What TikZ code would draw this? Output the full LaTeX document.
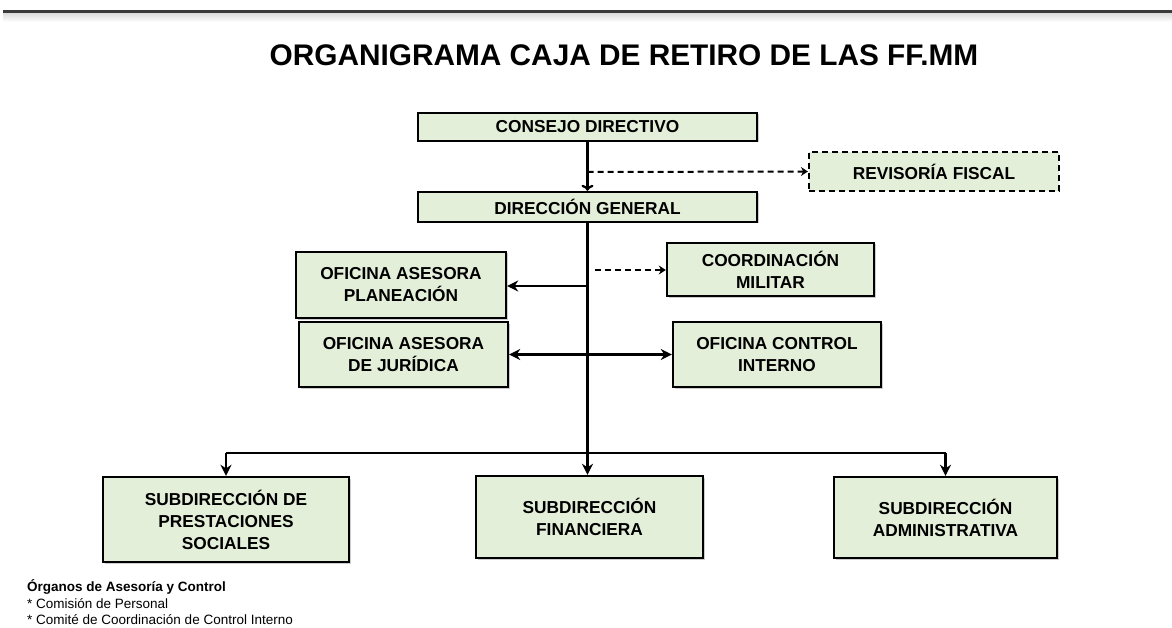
\documentclass[tikz,border=0pt]{standalone}
\usepackage{fontspec}
\setmainfont{Liberation Sans}
\usetikzlibrary{arrows.meta,shadows,calc}
\definecolor{boxfill}{HTML}{E4EFDA}
\definecolor{barcol}{HTML}{3A3A3A}
\tikzset{
  orgbox/.style={draw=black, line width=2.4pt, fill=boxfill, align=center,
    font=\fontsize{17.3}{22}\selectfont\bfseries, inner sep=2pt,
    drop shadow={shadow xshift=1.5pt, shadow yshift=-1.5pt, fill=gray!50, opacity=0.8}},
  dashbox/.style={draw=black, line width=2.2pt, dash pattern=on 6pt off 4pt, fill=boxfill, align=center,
    font=\fontsize{17.3}{22}\selectfont\bfseries, inner sep=2pt},
  conn/.style={line width=2.4pt, draw=black},
  tip/.style={conn, -{Stealth[length=11pt,width=11pt]}},
  vtip/.style={conn, -{To[length=6pt,width=12pt,line width=2.2pt]}},
  dconn/.style={line width=2pt, draw=black, dash pattern=on 6pt off 4pt, -{Stealth[length=7pt,width=9pt]}},
}
\begin{document}
\begin{tikzpicture}[x=1pt,y=-1pt]
\useasboundingbox (0,0) rectangle (1172,628);
\fill[barcol] (3,10) rectangle (1172,14);
\shade[top color=gray!25, bottom color=white] (3,14) rectangle (1172,22);

\node[font=\fontsize{29.8}{34}\selectfont\bfseries] (title) at (624,55) {ORGANIGRAMA CAJA DE RETIRO DE LAS FF.MM};

\node[orgbox, minimum width=339pt, minimum height=28pt] (cd) at (587.5,127) {CONSEJO DIRECTIVO};
\node[orgbox, minimum width=339pt, minimum height=30pt] (dg) at (587.5,207) {DIRECCIÓN GENERAL};
\node[dashbox, minimum width=250pt, minimum height=39pt] (rf) at (934,171.5) {REVISORÍA FISCAL};
\node[orgbox, minimum width=210pt, minimum height=66pt] (oap) at (401,285) {OFICINA ASESORA\\PLANEACIÓN};
\node[orgbox, minimum width=207pt, minimum height=53pt] (cm) at (770.5,269.5) {COORDINACIÓN\\MILITAR};
\node[orgbox, minimum width=209pt, minimum height=65pt] (oaj) at (403.5,354.5) {OFICINA ASESORA\\DE JURÍDICA};
\node[orgbox, minimum width=208pt, minimum height=65pt] (oci) at (777,354.5) {OFICINA CONTROL\\INTERNO};
\node[orgbox, minimum width=246pt, minimum height=85pt] (sps) at (226,519.5) {SUBDIRECCIÓN DE\\PRESTACIONES\\SOCIALES};
\node[orgbox, minimum width=227pt, minimum height=82pt] (sf) at (589.5,517) {SUBDIRECCIÓN\\FINANCIERA};
\node[orgbox, minimum width=223pt, minimum height=81pt] (sa) at (945.5,517.5) {SUBDIRECCIÓN\\ADMINISTRATIVA};

% connectors
\draw[vtip] (cd.south) -- (dg.north);
\coordinate (rfstart) at (587.5,172);
\draw[dconn] (rfstart) -- (rf.west);
\draw[tip] (dg.south) -- (dg.south |- sf.north);
\coordinate (oapj) at (587.5,286);
\draw[tip] (oapj) -- (oapj -| oap.east);
\coordinate (cmstart) at (595,270);
\draw[dconn] (cmstart) -- (cmstart -| cm.west);
\draw[conn, {Stealth[length=11pt,width=11pt]}-{Stealth[length=11pt,width=11pt]}] (oaj.east) -- (oaj.east -| oci.west);
\coordinate (bar) at (587.5,453);
\draw[conn] (bar -| sps.north) -- (bar -| sa.north);
\draw[tip] (bar -| sps.north) -- (sps.north);
\draw[tip] (bar -| sa.north) -- (sa.north);

% footer
\node[anchor=west, font=\fontsize{13.5}{15}\selectfont\bfseries, inner sep=0pt] (f1) at (27,587) {Órganos de Asesoría y Control};
\node[anchor=west, font=\fontsize{13.5}{15}\selectfont, inner sep=0pt] (f2) at (27,604) {* Comisión de Personal};
\node[anchor=west, font=\fontsize{13.5}{15}\selectfont, inner sep=0pt] (f3) at (27,620) {* Comité de Coordinación de Control Interno};
\end{tikzpicture}
\end{document}
